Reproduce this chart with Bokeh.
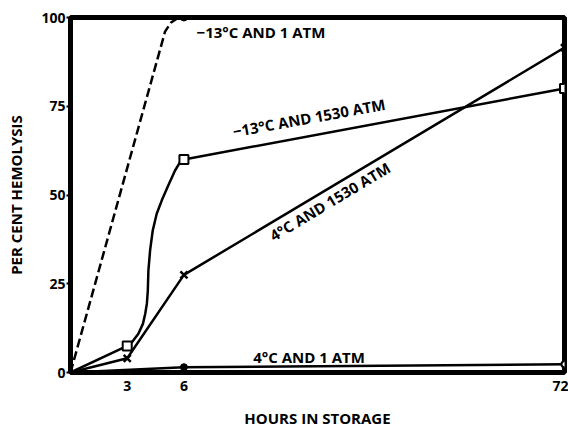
import numpy as np
from bokeh.plotting import figure
from bokeh.models import Range1d, FixedTicker
from bokeh.core.properties import value
from bokeh.embed import file_html
from bokeh.resources import INLINE

# ---- data ----
x_ticks_hours = [3, 6, 72]
x_tick_labels = ["3", "6", "72"]
y_ticks = [0, 25, 50, 75, 100]

# -13 C and 1 atm (dashed)
hours_a = [0, 5.0, 5.3, 5.6, 6]
pct_a = [0, 96, 98.5, 99.6, 100]
mark_hours_a = [6]
mark_pct_a = [100]

# -13 C and 1530 atm (squares)
hours_b = [0, 3, 3.25, 3.59, 3.83, 3.95, 4.04, 4.09, 4.12, 4.21, 4.35,
           4.56, 4.83, 5.17, 5.53, 5.79, 6, 72]
pct_b = [0, 7.5, 8.5, 10.9, 13.7, 16.5, 19.4, 23.1, 28.7, 34.4, 40.0,
         44.7, 48.5, 52.7, 56.9, 59.2, 60, 80]
mark_hours_b = [3, 6, 72]
mark_pct_b = [7.5, 60, 80]

# 4 C and 1530 atm (crosses)
hours_c = [0, 3, 6, 72]
pct_c = [0, 4, 27.5, 91.5]

# 4 C and 1 atm (dots)
hours_d = [0, 6, 72]
pct_d = [0, 1.5, 2.3]

labels = ["\u221213\u00b0C AND 1 ATM", "\u221213\u00b0C AND 1530 ATM",
          "4\u00b0C AND 1530 ATM", "4\u00b0C AND 1 ATM"]
label_hours = [8.2, 27.7, 31.3, 27.7]
label_pct = [95.8, 71.8, 48.2, 4.3]

# broken-scale hours axis: linear to 6 h, compressed after
K = 0.305
def tx(h):
    h = np.asarray(h, dtype=float)
    return np.where(h <= 6, h, 6 + (h - 6) * K)

FONT = "Open Sans"

p = figure(width=568, height=430, output_backend="svg", toolbar_location=None,
           x_range=Range1d(0, float(tx(72))), y_range=Range1d(0, 100),
           min_border_left=70, min_border_right=4, min_border_top=17,
           min_border_bottom=58)
p.xgrid.visible = False
p.ygrid.visible = False
p.outline_line_color = "black"
p.outline_line_width = 5
p.outline_line_alpha = 1
p.background_fill_color = "white"

xt_vals = [float(v) for v in tx(x_ticks_hours)]
p.xaxis.ticker = FixedTicker(ticks=xt_vals)
p.xaxis.major_label_overrides = {v: l for v, l in zip(xt_vals, x_tick_labels)}
p.yaxis.ticker = FixedTicker(ticks=y_ticks)
for ax in (p.xaxis, p.yaxis):
    ax.axis_line_color = None
    ax.minor_tick_line_color = None
    ax.major_label_text_font = FONT
    ax.major_label_text_font_style = "bold"
    ax.major_label_text_font_size = "14px"
    ax.major_label_text_color = "black"
    ax.axis_label_text_font = FONT
    ax.axis_label_text_font_style = "bold"
    ax.axis_label_text_font_size = "15px"
    ax.axis_label_text_color = "black"
p.xaxis.major_tick_line_color = None
p.xaxis.major_label_standoff = 2
p.yaxis.major_tick_out = 4
p.yaxis.major_tick_in = 0
p.yaxis.major_tick_line_width = 2
p.yaxis.major_label_standoff = 1
p.xaxis.axis_label = "HOURS IN STORAGE"
p.yaxis.axis_label = "PER CENT HEMOLYSIS"
p.xaxis.axis_label_standoff = 14
p.yaxis.axis_label_standoff = 12

LW = 2.5
p.line(tx(hours_a), pct_a, line_width=LW, color="black", line_dash="9 4")
p.scatter(tx(mark_hours_a), mark_pct_a, marker="circle", size=7, color="black")

p.line(tx(hours_b), pct_b, line_width=LW, color="black")
p.scatter(tx(mark_hours_b), mark_pct_b, marker="square", size=9,
          fill_color="white", line_color="black", line_width=2)

p.line(tx(hours_c), pct_c, line_width=LW, color="black")
p.scatter(tx(hours_c[1:]), pct_c[1:], marker="x", size=10,
          line_color="black", line_width=2.5)

p.line(tx(hours_d), pct_d, line_width=LW, color="black")
p.scatter(tx(hours_d[1:2]), pct_d[1:2], marker="circle", size=7, color="black")
p.scatter(tx(hours_d[2:]), pct_d[2:], marker="circle", size=6,
          fill_color="white", line_color="black", line_width=2)

angles = [0, 0.18, 0.54, 0]
aligns = ["left", "center", "center", "center"]
for lab, h, y, a, al in zip(labels, label_hours, label_pct, angles, aligns):
    p.text(x=[float(tx(h))], y=[y], text=[lab], angle=a,
           text_font=value(FONT), text_font_style="bold",
           text_font_size="15px", text_align=al, text_baseline="middle",
           text_color="black")

open("out.html", "w").write(file_html(p, INLINE))
